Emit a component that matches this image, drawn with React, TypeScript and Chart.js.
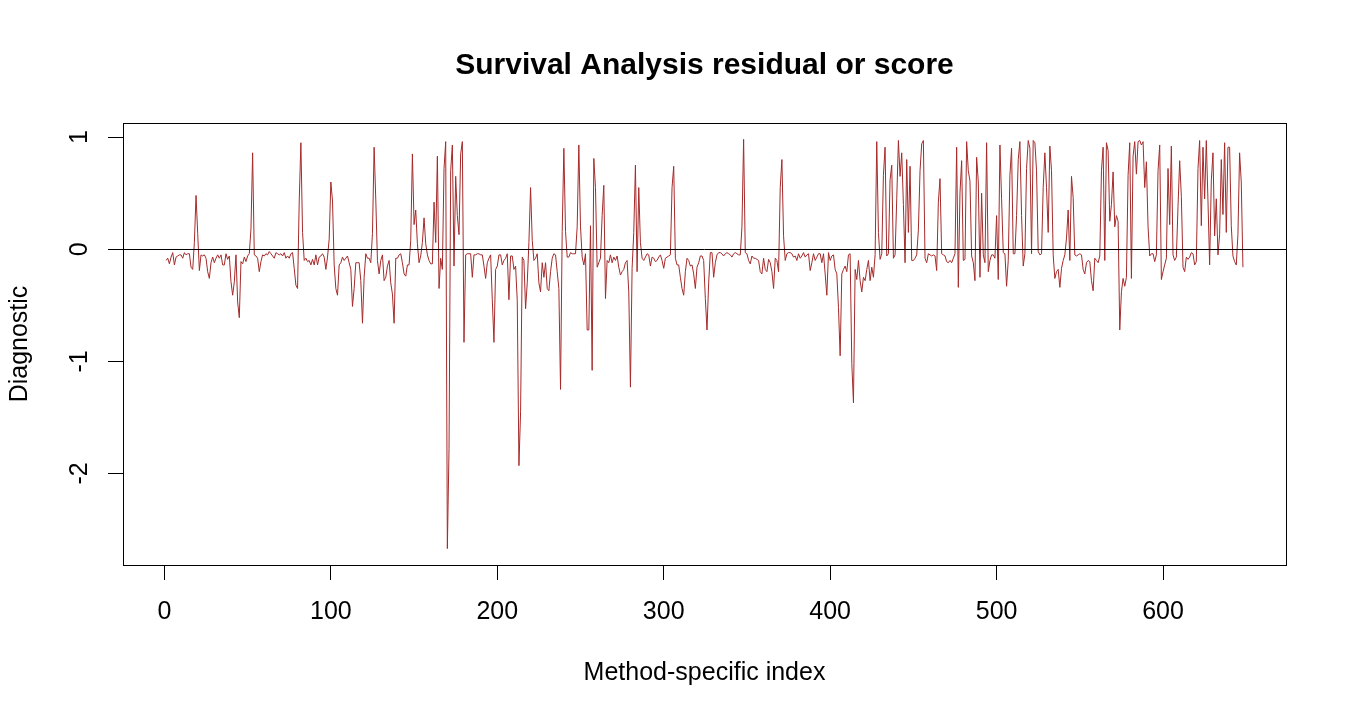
import React, { useEffect, useRef } from "react";
import { Chart, registerables } from "chart.js";

Chart.register(...registerables);

// Diagnostic values, index 1..648
const seg1 = [
  -0.10, -0.08, -0.13, -0.07, -0.03, -0.14, -0.07, -0.06, -0.05, -0.05,
  -0.08, -0.03, -0.05, -0.04, -0.04, -0.16, -0.18, 0.06, 0.48, 0.14,
  -0.19, -0.05, -0.06, -0.05, -0.08, -0.20, -0.26, -0.12, -0.07, -0.12,
  -0.08, -0.05, -0.08, -0.05, -0.14, -0.14, -0.04, -0.09, -0.06, -0.29,
  -0.41, -0.29, -0.05, -0.47, -0.61, -0.11, -0.13, -0.07, -0.11, -0.06,
  -0.04, 0.18, 0.86, -0.05, -0.06, -0.08, -0.20, -0.11, -0.05, -0.06,
  -0.04, -0.05, -0.02, -0.04, -0.06, -0.08, -0.03, -0.04, -0.05, -0.04,
  -0.06, -0.03, -0.08, -0.06, -0.08, -0.04, -0.03, -0.17, -0.32, -0.35,
  0.43, 0.95, 0.15, -0.10, -0.08, -0.11, -0.10, -0.14, -0.09, -0.14,
  -0.05, -0.14, -0.07, -0.06, -0.04, -0.07, -0.18, -0.07, 0.09, 0.60,
  0.43, -0.14, -0.35, -0.41, -0.14,
];
const seg2 = [
  -0.12, -0.07, -0.10, -0.08, -0.06, -0.12, -0.18, -0.51, -0.35, -0.12,
  -0.12, -0.12, -0.28, -0.66, -0.25, -0.04, -0.08, -0.08, -0.12, 0.14,
  0.91, 0.44, -0.10, -0.22, -0.10, -0.05, -0.28, -0.25, -0.15, -0.10,
  -0.30, -0.40, -0.66, -0.08, -0.08, -0.05, -0.04, -0.12, -0.22, -0.24,
  -0.14, -0.14, 0.08, 0.85, 0.22, 0.35, 0.05, -0.12, -0.06, 0.06,
  0.28, 0.05, -0.05, -0.10, -0.13, -0.13, 0.42, 0.06, 0.83, -0.35,
  -0.08, -0.18, 0.72, 0.96, -2.67, -1.78, 0.70, 0.93, -0.15, 0.65,
  0.30, 0.13, 0.85, 0.96, -0.83, -0.05, -0.04, -0.04, -0.04, -0.25,
  -0.05, -0.05, -0.04, -0.04, -0.05, -0.05, -0.15, -0.26, -0.12, -0.08,
  -0.05, -0.45, -0.83, -0.18, -0.15, -0.05, -0.05, -0.14, -0.10, -0.08,
  -0.04, -0.45, -0.06, -0.06, -0.18, -0.15, -0.46, -1.93, -1.45,
];
const seg3 = [
  -0.07, -0.10, -0.53, -0.30, 0.06, 0.55, 0.08, -0.10, -0.08, -0.04,
  -0.30, -0.38, -0.12, -0.25, -0.12, -0.35, -0.37, -0.20, -0.08, -0.04,
  -0.05, -0.20, -0.35, -1.25, 0.16, 0.90, 0.16, -0.07, -0.07, -0.03,
  -0.04, -0.04, -0.04, 0.20, 0.93, 0.20, -0.07, -0.14, -0.04, -0.72,
  -0.72, 0.21, -1.08, 0.81, 0.55, -0.16, -0.12, -0.08, 0.30, 0.57,
  -0.44, -0.10, -0.12, -0.05, -0.12, -0.07, -0.10, -0.06, -0.16, -0.23,
  -0.20, -0.18, -0.12, -0.10, -0.38, -1.23, -0.17, 0.15, 0.75, -0.20,
  0.55, 0.06, -0.08, -0.10, -0.07, -0.04, -0.05, -0.15, -0.07, -0.08,
  -0.11, -0.10, -0.07, -0.05, -0.10, -0.17, -0.08, -0.07, -0.06, -0.05,
  0.55, 0.74, -0.08, -0.14, -0.14, -0.25, -0.35, -0.41, -0.20, -0.08,
  -0.10, -0.15, -0.14, -0.22, -0.35, -0.16, -0.12,
];
const seg4 = [
  -0.06, -0.06, -0.10, -0.44, -0.72, -0.30, -0.03, -0.03, -0.25, -0.12,
  -0.05, -0.03, -0.03, -0.04, -0.06, -0.04, -0.03, -0.04, -0.05, -0.07,
  -0.04, -0.03, -0.04, -0.05, -0.05, 0.20, 0.98, -0.03, -0.04, -0.10,
  -0.13, -0.06, -0.08, -0.08, -0.09, -0.10, -0.20, -0.22, -0.08, -0.18,
  -0.20, -0.09, -0.12, -0.20, -0.35, -0.08, -0.10, -0.20, 0.55, 0.80,
  0.12, -0.10, -0.04, -0.03, -0.03, -0.04, -0.07, -0.06, -0.10, -0.04,
  -0.08, -0.06, -0.03, -0.07, -0.05, -0.04, -0.19, -0.12, -0.04, -0.10,
  -0.07, -0.04, -0.04, -0.12, -0.04, -0.22, -0.41, -0.03, -0.10, -0.06,
  -0.05, -0.18, -0.22, -0.52, -0.95, -0.22, -0.18, -0.15, -0.20, -0.05,
  -0.04, -1.02, -1.37, -0.18, -0.27, -0.10, -0.28, -0.38, -0.25, -0.28,
  -0.18, -0.10, -0.28, -0.16, -0.25, -0.05, 0.96, 0.15, -0.09,
];
const seg5 = [
  -0.04, 0.66, 0.91, -0.06, -0.04, 0.62, 0.75, -0.08, -0.05, 0.45,
  0.97, 0.65, 0.86, 0.40, -0.12, 0.80, 0.15, 0.74, -0.10, -0.10,
  -0.08, -0.05, 0.17, 0.70, 0.94, 0.97, -0.08, -0.12, -0.04, -0.05,
  -0.06, -0.05, -0.06, -0.19, 0.42, 0.63, -0.04, -0.05, -0.06, -0.11,
  -0.12, -0.10, -0.12, -0.08, -0.04, 0.91, -0.34, 0.50, 0.79, -0.10,
  -0.09, 0.96, 0.70, 0.61, -0.06, -0.12, -0.28, 0.82, 0.60, -0.25,
  0.50, -0.05, -0.12, 0.95, -0.20, -0.10, -0.05, -0.05, -0.08, 0.30,
  -0.27, 0.93, 0.45, -0.03, -0.04, -0.33, -0.10, 0.66, 0.90, -0.04,
  -0.04, 0.30, 0.80, 0.96, 0.30, -0.15, -0.04, 0.72, 0.97, 0.90,
  -0.04, 0.97, 0.95, 0.70, -0.02, -0.05, -0.04, 0.55, 0.86, 0.55,
  0.15, 0.92, 0.70, -0.05, -0.26, -0.20, -0.18, -0.34,
];
const seg6 = [
  -0.17, -0.10, -0.05, 0.10, 0.35, -0.10, 0.65, 0.46, -0.05, -0.06,
  -0.05, -0.04, -0.05, -0.18, -0.22, -0.12, -0.10, -0.11, -0.28, -0.37,
  -0.08, -0.10, -0.12, -0.06, 0.70, 0.91, -0.10, 0.95, 0.88, 0.25,
  0.40, 0.69, 0.20, 0.30, 0.25, -0.72, -0.38, -0.26, -0.33, -0.25,
  0.66, 0.95, -0.26, 0.83, 0.96, 0.67, 0.96, 0.97, 0.93, 0.96,
  0.55, 0.78, 0.20, -0.06, -0.04, -0.04, -0.11, -0.05, 0.70, 0.93,
  -0.27, -0.20, -0.14, -0.08, 0.72, 0.22, 0.92, -0.05, -0.10, -0.07,
  0.38, 0.79, 0.47, -0.16, -0.20, -0.07, -0.09, -0.07, -0.03, -0.04,
  -0.14, -0.11, 0.72, 0.97, 0.21, 0.91, 0.45, 0.97, 0.43, -0.14,
  0.61, 0.86, 0.12, 0.45, -0.05, 0.13, 0.80, 0.31, 0.95, 0.15,
  0.91, 0.91, 0.21, -0.06, -0.11, -0.14, 0.13, 0.86, 0.60, -0.16,
];

const diagnostic = [...seg1, ...seg2, ...seg3, ...seg4, ...seg5, ...seg6];
const methodIndex = diagnostic.map((_, i) => i + 1);

const xTickValues = [0, 100, 200, 300, 400, 500, 600];
const yTickValues = [-2, -1, 0, 1];

const TITLE = "Survival Analysis residual or score";
const X_LABEL = "Method-specific index";
const Y_LABEL = "Diagnostic";
const LINE_COLOR = "#A52A2A";
const FONT = "'Liberation Sans', Arial, Helvetica, sans-serif";

function extendRange(vals: number[]) {
  const lo = Math.min(...vals);
  const hi = Math.max(...vals);
  const d = (hi - lo) * 0.04;
  return [lo - d, hi + d];
}

const boxPlugin = {
  id: "rBox",
  afterDatasetsDraw(chart: any) {
    const { ctx, chartArea: a, scales } = chart;
    ctx.save();
    ctx.strokeStyle = "#000";
    ctx.lineWidth = 1;
    const y0 = Math.round(scales.y.getPixelForValue(0)) + 0.5;
    ctx.beginPath();
    ctx.moveTo(a.left, y0);
    ctx.lineTo(a.right, y0);
    ctx.stroke();
    ctx.strokeRect(
      Math.round(a.left) + 0.5,
      Math.round(a.top) + 0.5,
      Math.round(a.right - a.left),
      Math.round(a.bottom - a.top)
    );
    ctx.restore();
  },
  afterDraw(chart: any) {
    const { ctx, chartArea: a } = chart;
    ctx.save();
    ctx.fillStyle = "#000";
    ctx.font = `bold 30px ${FONT}`;
    ctx.textAlign = "center";
    ctx.textBaseline = "alphabetic";
    ctx.fillText(TITLE, (a.left + a.right) / 2, 74);
    ctx.restore();
  },
};

export default function App() {
  const ref = useRef<HTMLCanvasElement | null>(null);

  useEffect(() => {
    if (!ref.current) return;
    const [xMin, xMax] = extendRange(methodIndex);
    const [yMin, yMax] = extendRange(diagnostic);
    const tickFont = { family: FONT, size: 25 };
    const grid = {
      display: true,
      drawOnChartArea: false,
      drawTicks: true,
      tickLength: 15,
      color: "#000",
      lineWidth: 1,
    };
    const chart = new Chart(ref.current, {
      type: "line",
      data: {
        datasets: [
          {
            data: methodIndex.map((x, i) => ({ x, y: diagnostic[i] })),
            borderColor: LINE_COLOR,
            borderWidth: 1,
            pointRadius: 0,
            tension: 0,
            fill: false,
          },
        ],
      },
      plugins: [boxPlugin],
      options: {
        animation: false,
        responsive: false,
        devicePixelRatio: 1,
        layout: { padding: { top: 123, right: 64, bottom: 0, left: 0 } },
        plugins: {
          legend: { display: false },
          tooltip: { enabled: false },
          title: { display: false },
        },
        scales: {
          x: {
            type: "linear",
            min: xMin,
            max: xMax,
            afterBuildTicks: (s: any) => {
              s.ticks = xTickValues.map((v) => ({ value: v }));
            },
            afterFit: (s: any) => {
              s.height = 155;
            },
            grid,
            border: { display: false },
            ticks: {
              color: "#000",
              font: tickFont,
              padding: 17,
              maxRotation: 0,
              minRotation: 0,
              autoSkip: false,
              callback: (v: any) => String(v),
            },
            title: {
              display: true,
              text: X_LABEL,
              color: "#000",
              font: tickFont,
              padding: { top: 0, bottom: 32 },
            },
          },
          y: {
            type: "linear",
            min: yMin,
            max: yMax,
            afterBuildTicks: (s: any) => {
              s.ticks = yTickValues.map((v) => ({ value: v }));
            },
            afterFit: (s: any) => {
              s.width = 123;
            },
            grid,
            border: { display: false },
            ticks: {
              color: "#000",
              font: tickFont,
              padding: 17,
              minRotation: 90,
              maxRotation: 90,
              crossAlign: "center",
              autoSkip: false,
              callback: (v: any) => String(v),
            },
            title: {
              display: true,
              text: Y_LABEL,
              color: "#000",
              font: tickFont,
              padding: { top: 5, bottom: 0 },
            },
          },
        },
      } as any,
    });
    return () => chart.destroy();
  }, []);

  return (
    <div
      style={{
        position: "fixed",
        left: 0,
        top: 0,
        width: 1350,
        height: 720,
        background: "#fff",
      }}
    >
      <canvas ref={ref} width={1350} height={720} style={{ display: "block" }} />
    </div>
  );
}
